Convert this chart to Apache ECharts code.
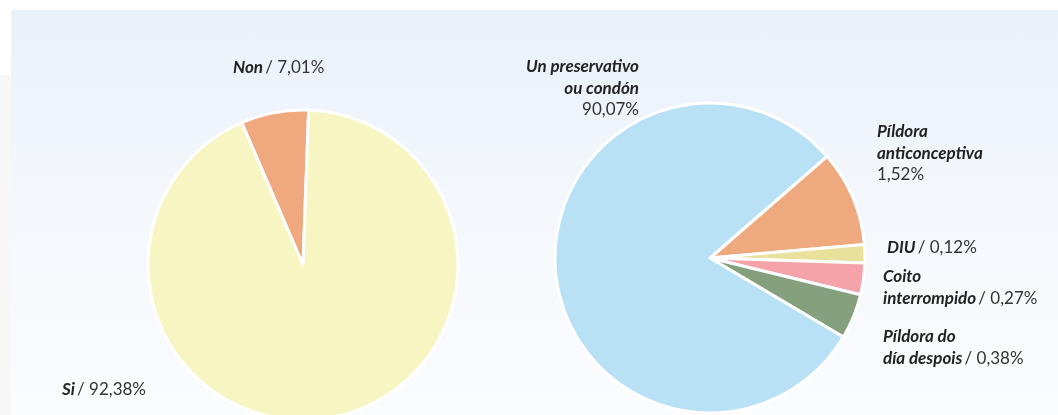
<!DOCTYPE html>
<html>
<head>
<meta charset="utf-8">
<script src="https://cdn.jsdelivr.net/npm/echarts@6/dist/echarts.min.js"></script>
<style>
  html, body { margin: 0; padding: 0; background: #fff; }
  .wrap { position: relative; width: 1058px; height: 415px; overflow: hidden; }
  .side { position: absolute; left: 0; top: 75px; width: 11px; height: 340px; background: #f7f7f7; }
  .panel { position: absolute; left: 11px; top: 10px; right: 0; bottom: 0;
           background: linear-gradient(to bottom, #e9f1f9 0%, #f3f7fc 45%, #fbfcfe 100%); }
  #chart { position: absolute; left: 0; top: 0; width: 1058px; height: 415px; }
</style>
</head>
<body>
<div class="wrap">
  <div class="side"></div>
  <div class="panel"></div>
  <div id="chart"></div>
</div>
<script>
  // left pie: Non / Si
  var leftNames = ['Non', 'Si']
  var leftValues = [7.01, 92.38]
  var leftLabels = ['7,01%', '92,38%']
  var leftColors = ['#f0a97f', '#f7f6c3']

  // right pie: slice sizes as drawn in the picture (the printed % are different)
  var rightNames = ['Píldora\nanticonceptiva', 'DIU', 'Coito\ninterrompido', 'Píldora do\ndía despois', 'Un preservativo\nou condón']
  var rightValues = [10.0, 1.9, 3.3, 4.7, 80.1]
  var rightLabels = ['1,52%', '0,12%', '0,27%', '0,38%', '90,07%']
  var rightColors = ['#efa97f', '#e8e09b', '#f5a3a8', '#84a07c', '#b9e1f5']

  // where each label sits (x, y, align, vertical align, percent on own line?)
  var leftPos = [
    {x: 233, y: 68, align: 'left', va: 'middle', own: false},
    {x: 62, y: 390, align: 'left', va: 'middle', own: false}
  ]
  var rightPos = [
    {x: 877, y: 121, align: 'left', va: 'top', own: true},
    {x: 887, y: 248, align: 'left', va: 'middle', own: false},
    {x: 883, y: 266, align: 'left', va: 'top', own: false},
    {x: 883, y: 326, align: 'left', va: 'top', own: false},
    {x: 639, y: 56, align: 'right', va: 'top', own: true}
  ]

  var rich = {
    n: {fontFamily: 'Lato', fontStyle: 'italic', fontWeight: 'bold', fontSize: 17, color: '#222', lineHeight: 21.5},
    p: {fontFamily: 'Lato', fontSize: 17, color: '#333', lineHeight: 21.5}
  }

  function makeLabel(names, labels, pos) {
    return function (params) {
      var i = params.dataIndex
      var lines = names[i].split('\n').map(function (s) { return '{n|' + s + '}' })
      if (pos[i].own) {
        return lines.join('\n') + '\n{p|' + labels[i] + '}'
      }
      return lines.join('\n') + '{p|\u2009/ ' + labels[i] + '}'
    }
  }

  function makeLayout(pos) {
    return function (params) {
      var p = pos[params.dataIndex]
      return {x: p.x, y: p.y, align: p.align, verticalAlign: p.va}
    }
  }

  function toData(names, values, colors) {
    return values.map(function (v, i) {
      return {name: names[i], value: v, itemStyle: {color: colors[i]}}
    })
  }

  var chart = echarts.init(document.getElementById('chart'))
  var option = {
    animation: false,
    series: [
      {
        type: 'pie',
        center: [303, 265],
        radius: 155,
        startAngle: 113.3,
        clockwise: true,
        itemStyle: {borderColor: '#fff', borderWidth: 3},
        label: {show: true, position: 'outside', overflow: 'none', formatter: makeLabel(leftNames, leftLabels, leftPos), rich: rich},
        labelLine: {show: false},
        labelLayout: makeLayout(leftPos),
        emphasis: {disabled: true},
        data: toData(leftNames, leftValues, leftColors)
      },
      {
        type: 'pie',
        center: [710, 258],
        radius: 155,
        startAngle: 41,
        clockwise: true,
        itemStyle: {borderColor: '#fff', borderWidth: 3},
        label: {show: true, position: 'outside', overflow: 'none', formatter: makeLabel(rightNames, rightLabels, rightPos), rich: rich},
        labelLine: {show: false},
        labelLayout: makeLayout(rightPos),
        emphasis: {disabled: true},
        data: toData(rightNames, rightValues, rightColors)
      }
    ]
  }
  chart.setOption(option)
</script>
</body>
</html>
